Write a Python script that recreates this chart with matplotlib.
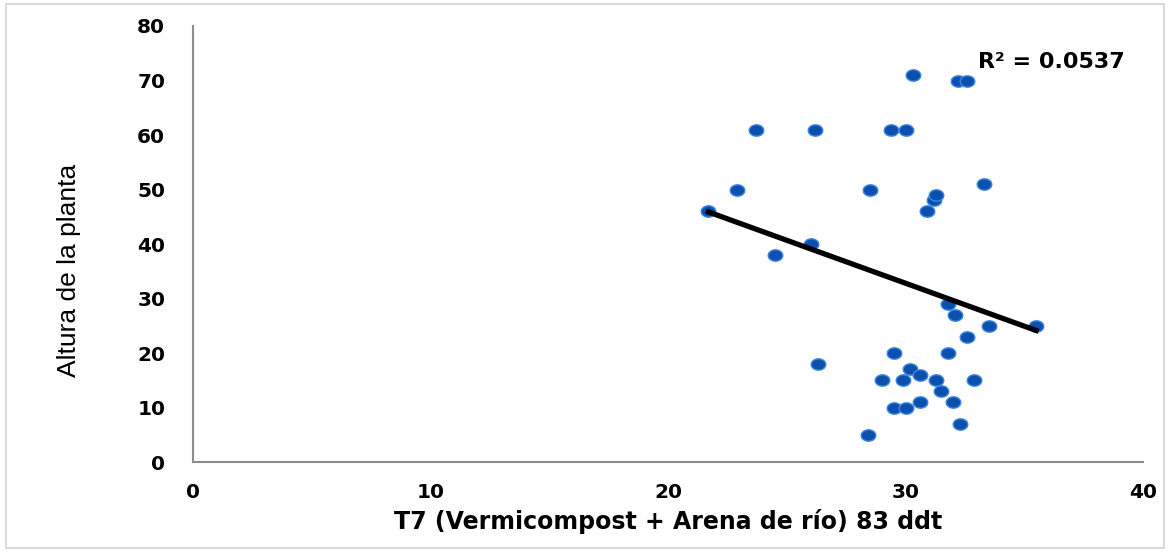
import matplotlib.pyplot as plt
import numpy as np
from matplotlib.path import Path
from matplotlib.patches import Rectangle

# datos
x_vals = [21.7, 22.9, 23.7, 24.5, 26.0, 26.2, 26.3, 28.4, 28.5, 29.0, 29.4, 29.5, 29.5,
          29.9, 30.0, 30.0, 30.2, 30.3, 30.6, 30.6, 30.9, 31.2, 31.3, 31.3, 31.5, 31.8,
          31.8, 32.0, 32.1, 32.2, 32.3, 32.6, 32.6, 32.9, 33.3, 33.5, 35.5]
y_vals = [46, 50, 61, 38, 40, 61, 18, 5, 50, 15, 61, 20, 10,
          15, 61, 10, 17, 71, 16, 11, 46, 48, 49, 15, 13, 20,
          29, 11, 27, 70, 7, 70, 23, 15, 51, 25, 25]
x_ticks = [0, 10, 20, 30, 40]
y_ticks = [0, 10, 20, 30, 40, 50, 60, 70, 80]
r2_label = 'R² = 0.0537'
x_label = 'T7 (Vermicompost + Arena de río) 83 ddt'
y_label = 'Altura de la planta'

plt.rcParams['font.family'] = ['Liberation Sans', 'DejaVu Sans']
bold_font = ['DejaVu Sans']

fig = plt.figure(figsize=(11.69, 5.52), dpi=100)
ax = fig.add_axes([0.1651, 0.163, 0.8127, 0.7899])

# marcador elíptico
t = np.linspace(0, 2 * np.pi, 40)
ellipse = Path(np.column_stack([np.cos(t), 0.78 * np.sin(t)]), closed=True)

x = np.array(x_vals)
y = np.array(y_vals)
ax.plot(x, y, linestyle='none', marker=ellipse, markersize=10.5,
        markerfacecolor='#0a50ac', markeredgecolor='#3f86e2', markeredgewidth=1, zorder=3)

# línea de tendencia
m, b = np.polyfit(x, y, 1)
xs = np.array([x.min(), x.max()])
ax.plot(xs, m * xs + b, color='black', linewidth=3.8, zorder=4)

ax.text(33.05, 73.4, r2_label, fontsize=16, fontweight='bold', family=bold_font,
        va='center', ha='left')

ax.set_xlim(0, 40)
ax.set_ylim(0, 80)
ax.set_xticks(x_ticks)
ax.set_yticks(y_ticks)
ax.tick_params(length=0, labelsize=14.5)
ax.tick_params(axis='x', pad=15)
ax.tick_params(axis='y', pad=20)
for lab in ax.get_xticklabels() + ax.get_yticklabels():
    lab.set_fontweight('bold')
    lab.set_family(bold_font)

for side in ['top', 'right']:
    ax.spines[side].set_visible(False)
for side in ['left', 'bottom']:
    ax.spines[side].set_color('#8c8c8c')
    ax.spines[side].set_linewidth(1.5)

ax.set_xlabel(x_label, fontsize=17, fontweight='bold', family=bold_font, labelpad=5)
ax.set_ylabel(y_label, fontsize=19)
ax.yaxis.set_label_coords(-0.118, 0.44)

fig.patches.append(Rectangle((0.005, 0.007), 0.991, 0.985, transform=fig.transFigure,
                             fill=False, edgecolor='#d4d4d4', linewidth=1.2))

fig.savefig('out.png', dpi=100)
